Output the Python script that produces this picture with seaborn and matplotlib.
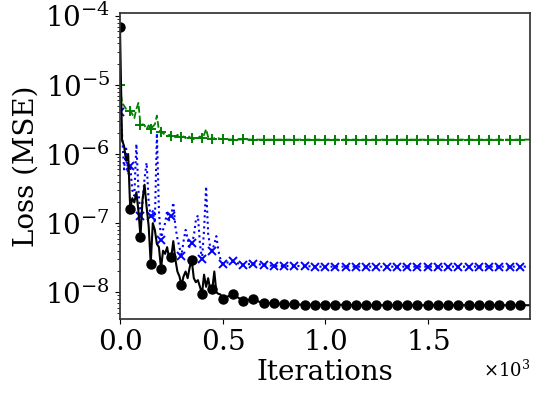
import numpy as np
import pandas as pd
import seaborn as sns
import matplotlib
matplotlib.use("Agg")
import matplotlib.pyplot as plt

# iterations: every 10 up to 500, then every 50, then the last one
iters = list(range(0, 501, 10)) + list(range(550, 1951, 50)) + [1999]

loss_black = [7.0e-5, 1.6e-6, 1.3e-6, 8.0e-7, 1.0e-6, 1.6e-7, 2.3e-7, 2.0e-7, 2.8e-7, 1.5e-7,
              6.4e-8, 2.2e-7, 3.6e-7, 1.7e-7, 9.0e-8, 2.6e-8, 1.0e-7, 8.0e-8, 5.0e-8, 4.5e-8,
              2.2e-8, 4.0e-8, 3.6e-8, 4.5e-8, 3.0e-8, 3.2e-8, 5.5e-8, 3.0e-8, 2.0e-8, 1.7e-8,
              1.26e-8, 1.7e-8, 2.0e-8, 1.6e-8, 2.3e-8, 2.9e-8, 1.6e-8, 1.4e-8, 1.5e-8, 1.2e-8,
              9.5e-9, 1.8e-8, 1.2e-8, 1.6e-8, 1.1e-8, 1.1e-8, 2.0e-8, 1.0e-8, 9.5e-9, 9.3e-9,
              8.1e-9,
              9.3e-9, 7.6e-9, 7.9e-9, 6.9e-9, 7.0e-9, 6.7e-9, 6.7e-9, 6.6e-9, 6.6e-9, 6.6e-9,
              6.6e-9, 6.6e-9, 6.5e-9, 6.5e-9, 6.5e-9, 6.5e-9, 6.5e-9, 6.5e-9, 6.5e-9, 6.5e-9,
              6.5e-9, 6.5e-9, 6.5e-9, 6.5e-9, 6.5e-9, 6.5e-9, 6.5e-9, 6.5e-9, 6.5e-9,
              6.5e-9]

loss_blue = [4.0e-6, 2.0e-6, 6.0e-7, 1.2e-6, 5.0e-7, 6.8e-7, 3.0e-7, 2.5e-7, 1.4e-6, 3.0e-7,
             1.25e-7, 2.0e-7, 4.5e-7, 7.5e-7, 2.0e-7, 1.25e-7, 1.5e-7, 1.0e-7, 2.0e-6, 1.5e-7,
             5.7e-8, 8.0e-8, 1.0e-7, 1.5e-7, 1.1e-7, 1.25e-7, 2.0e-7, 9.0e-8, 6.0e-8, 4.5e-8,
             3.4e-8, 5.5e-8, 8.0e-8, 6.0e-8, 4.5e-8, 5.1e-8, 6.5e-8, 1.1e-7, 1.3e-7, 5.0e-8,
             3.0e-8, 8.0e-8, 3.4e-7, 7.0e-8, 4.5e-8, 4.0e-8, 5.0e-8, 6.5e-8, 4.0e-8, 3.0e-8,
             2.6e-8,
             2.8e-8, 2.5e-8, 2.6e-8, 2.5e-8, 2.4e-8, 2.4e-8, 2.4e-8, 2.4e-8, 2.35e-8, 2.35e-8,
             2.35e-8, 2.35e-8, 2.35e-8, 2.35e-8, 2.35e-8, 2.35e-8, 2.35e-8, 2.35e-8, 2.35e-8, 2.35e-8,
             2.35e-8, 2.35e-8, 2.35e-8, 2.35e-8, 2.35e-8, 2.35e-8, 2.35e-8, 2.35e-8, 2.35e-8,
             2.35e-8]

loss_green = [1.0e-5, 5.5e-6, 5.0e-6, 4.5e-6, 4.4e-6, 4.2e-6, 3.8e-6, 3.3e-6, 4.5e-6, 5.5e-6,
              2.6e-6, 2.7e-6, 2.6e-6, 2.3e-6, 2.6e-6, 2.3e-6, 2.5e-6, 2.7e-6, 3.6e-6, 2.2e-6,
              2.1e-6, 2.0e-6, 1.9e-6, 1.8e-6, 1.9e-6, 1.8e-6, 1.9e-6, 1.75e-6, 1.9e-6, 1.8e-6,
              1.75e-6, 1.8e-6, 1.7e-6, 1.85e-6, 1.75e-6, 1.7e-6, 1.65e-6, 1.75e-6, 1.7e-6, 1.8e-6,
              1.7e-6, 1.9e-6, 2.3e-6, 1.75e-6, 1.8e-6, 1.65e-6, 1.7e-6, 1.6e-6, 1.7e-6, 1.65e-6,
              1.65e-6,
              1.62e-6, 1.63e-6, 1.62e-6, 1.62e-6, 1.62e-6, 1.62e-6, 1.62e-6, 1.62e-6, 1.62e-6, 1.62e-6,
              1.62e-6, 1.62e-6, 1.62e-6, 1.62e-6, 1.62e-6, 1.62e-6, 1.62e-6, 1.62e-6, 1.62e-6, 1.62e-6,
              1.62e-6, 1.62e-6, 1.62e-6, 1.62e-6, 1.62e-6, 1.62e-6, 1.62e-6, 1.62e-6, 1.62e-6,
              1.62e-6]

sns.set_theme(style="ticks", rc={
    "text.color": "black", "axes.labelcolor": "black", "axes.edgecolor": "black",
    "xtick.color": "black", "ytick.color": "black",
    "xtick.major.size": 3.5, "ytick.major.size": 3.5,
    "xtick.minor.size": 2, "ytick.minor.size": 2,
    "xtick.major.width": 0.8, "ytick.major.width": 0.8,
    "xtick.minor.width": 0.6, "ytick.minor.width": 0.6,
})
plt.rcParams['font.family'] = ['DejaVu Serif']
plt.rcParams['mathtext.fontset'] = 'dejavuserif'

# markers only every 50 iterations
marks = [i for i, it in enumerate(iters) if it % 50 == 0]

fig, ax = plt.subplots(figsize=(5.38, 3.95), dpi=100)

sns.lineplot(x=iters, y=loss_green, ax=ax, color='#008000', linestyle='--', lw=1.3,
             marker='+', markersize=7, markeredgecolor='#008000', mew=1.4, markevery=marks)
sns.lineplot(x=iters, y=loss_blue, ax=ax, color='#0000ff', linestyle=':', lw=1.5,
             marker='x', markersize=6, markeredgecolor='#0000ff', mew=1.4, markevery=marks)
sns.lineplot(x=iters, y=loss_black, ax=ax, color='#000000', linestyle='-', lw=1.5,
             marker='o', markersize=6.5, markeredgecolor='#000000', mew=1, markevery=marks)

ax.set_yscale('log')
ax.set_xlim(0, 1999)
ax.ticklabel_format(axis='x', style='sci', scilimits=(0, 0), useMathText=True)
ax.xaxis.get_offset_text().set_fontsize(13)

ax.set_xlabel('Iterations', fontsize=20, labelpad=2)
ax.set_ylabel('Loss (MSE)', fontsize=20, labelpad=4)
ax.tick_params(axis='both', which='major', labelsize=20)
for s in ax.spines.values():
    s.set_color('#333333')

fig.subplots_adjust(left=0.223, right=0.985, top=0.968, bottom=0.192)
fig.savefig('out.png', dpi=100)
